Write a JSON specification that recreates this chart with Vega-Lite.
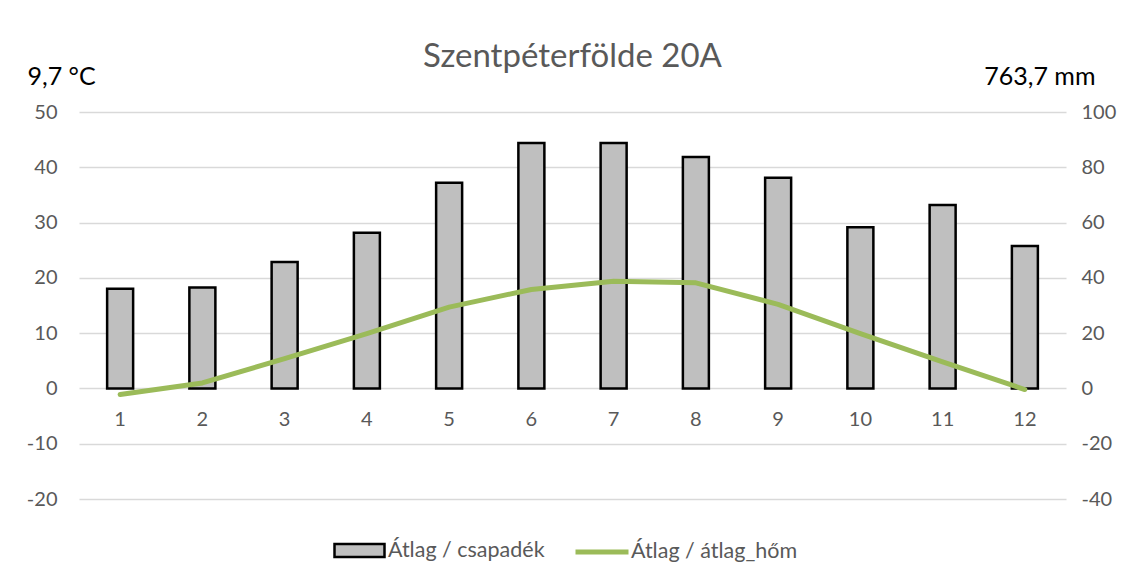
{
  "$schema": "https://vega.github.io/schema/vega-lite/v6.json",
  "width": 987,
  "height": 387,
  "autosize": {"type": "none"},
  "padding": {"left": 79, "top": 112, "right": 69, "bottom": 81},
  "background": "white",
  "title": {
    "text": "Szentpéterfölde 20A",
    "anchor": "middle",
    "font": "Lato",
    "fontSize": 33,
    "fontWeight": "normal",
    "color": "#595959",
    "offset": 10,
    "dy": 20
  },
  "config": {
    "view": {"stroke": null},
    "font": "Lato",
    "axis": {
      "labelFont": "Lato",
      "labelFontSize": 20,
      "labelColor": "#595959",
      "ticks": false,
      "domain": false,
      "gridColor": "#d9d9d9",
      "gridWidth": 1.3
    }
  },
  "data": {
    "values": [
      {"month": 1, "precip": 36.1, "temp": -1.1},
      {"month": 2, "precip": 36.5, "temp": 1.0},
      {"month": 3, "precip": 45.7, "temp": 5.4},
      {"month": 4, "precip": 56.3, "temp": 9.9},
      {"month": 5, "precip": 74.4, "temp": 14.7},
      {"month": 6, "precip": 88.8, "temp": 17.9},
      {"month": 7, "precip": 88.8, "temp": 19.4},
      {"month": 8, "precip": 83.7, "temp": 19.1},
      {"month": 9, "precip": 76.2, "temp": 15.2},
      {"month": 10, "precip": 58.3, "temp": 9.9},
      {"month": 11, "precip": 66.4, "temp": 4.8},
      {"month": 12, "precip": 51.5, "temp": -0.2}
    ]
  },
  "layer": [
    {
      "mark": {"type": "bar", "width": 26, "stroke": "black", "strokeWidth": 2.5},
      "encoding": {
        "x": {
          "field": "month",
          "type": "ordinal",
          "scale": {"paddingInner": 0, "paddingOuter": 0},
          "axis": {
            "orient": "bottom",
            "offset": -110.5,
            "labelAngle": 0,
            "labelPadding": 21,
            "grid": false,
            "title": null
          }
        },
        "y": {
          "field": "precip",
          "type": "quantitative",
          "scale": {"domain": [-40, 100], "nice": false, "zero": false},
          "axis": {
            "orient": "right",
            "values": [-40, -20, 0, 20, 40, 60, 80, 100],
            "labelExpr": "toString(datum.value)",
            "grid": false,
            "labelPadding": 15,
            "labelAlign": "left",
            "title": "763,7 mm",
            "titleAngle": 0,
            "titleAlign": "right",
            "titleBaseline": "alphabetic",
            "titleX": 29,
            "titleY": -28,
            "titleFont": "Lato",
            "titleFontSize": 25,
            "titleFontWeight": "normal",
            "titleColor": "black"
          }
        },
        "fill": {
          "datum": "Átlag / csapadék",
          "scale": {"range": ["#bfbfbf"]},
          "legend": {
            "title": null,
            "orient": "none",
            "legendX": 254,
            "legendY": 412,
            "symbolType": "M-1,-0.26H1V0.26H-1Z",
            "symbolSize": 2500,
            "symbolStrokeColor": "black",
            "symbolStrokeWidth": 2.5,
            "symbolOpacity": 1,
            "labelFont": "Lato",
            "labelFontSize": 21.5,
            "labelColor": "#595959",
            "labelOffset": 2,
            "labelLimit": 400
          }
        }
      }
    },
    {
      "mark": {"type": "line", "strokeWidth": 5, "strokeCap": "round", "strokeJoin": "round"},
      "encoding": {
        "x": {"field": "month", "type": "ordinal"},
        "y": {
          "field": "temp",
          "type": "quantitative",
          "scale": {"domain": [-20, 50], "nice": false, "zero": false},
          "axis": {
            "orient": "left",
            "values": [-20, -10, 0, 10, 20, 30, 40, 50],
            "labelExpr": "toString(datum.value)",
            "grid": true,
            "labelPadding": 22,
            "title": "9,7 °C",
            "titleAngle": 0,
            "titleAlign": "left",
            "titleBaseline": "alphabetic",
            "titleX": -52,
            "titleY": -28,
            "titleFont": "Lato",
            "titleFontSize": 25,
            "titleFontWeight": "normal",
            "titleColor": "black"
          }
        },
        "stroke": {
          "datum": "Átlag / átlag_hőm",
          "scale": {"range": ["#9bbb59"]},
          "legend": {
            "title": null,
            "orient": "none",
            "legendX": 494,
            "legendY": 411,
            "symbolType": "stroke",
            "symbolSize": 2809,
            "symbolStrokeWidth": 5,
            "labelFont": "Lato",
            "labelFontSize": 21.5,
            "labelColor": "#595959",
            "labelOffset": 0,
            "labelLimit": 400
          }
        }
      }
    }
  ],
  "resolve": {"scale": {"y": "independent", "fill": "independent", "stroke": "independent"}}
}
